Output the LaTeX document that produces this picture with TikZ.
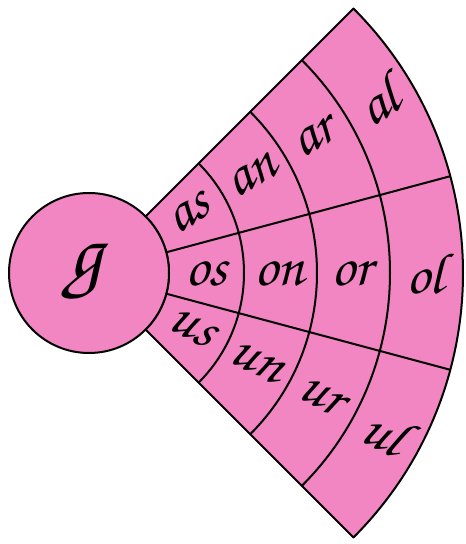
\documentclass[tikz,border=0pt]{standalone}
\usepackage[T1,TU]{fontenc}
\usetikzlibrary{calc}
\definecolor{fanpink}{RGB}{242,134,194}
\newcommand{\cursive}{\fontencoding{T1}\fontfamily{pzc}\fontseries{m}\fontshape{it}\selectfont}

\begin{document}
\begin{tikzpicture}[x=1pt,y=1pt,
rim/.style={draw=black,line width=2pt,line join=round},
syl/.style={font=\cursive\fontsize{58}{58}\selectfont,inner sep=0pt}
]
\useasboundingbox (0,0) rectangle (466,544);
\coordinate (c) at (89,271);

% fan of syllables
\filldraw[rim,fill=fanpink] ($(c)+(45:80)$) -- ($(c)+(45:374)$)
  arc[start angle=45,end angle=-45,radius=374] -- ($(c)+(-45:80)$)
  arc[start angle=-45,end angle=45,radius=80] -- cycle;
\foreach \r in {155,228,301}
  \draw[rim] ($(c)+(45:\r)$) arc[start angle=45,end angle=-45,radius=\r];
\foreach \a in {15,-15}
  \draw[rim] ($(c)+(\a:80)$) -- ($(c)+(\a:374)$);

% the letter
\node[rim,circle,fill=fanpink,minimum size=160pt,inner sep=0pt] (g) at (c) {};
\node[font=\cursive\fontsize{84}{84}\selectfont,inner sep=0pt] (glbl) at ($(c)+(-4,0)$) {g};

% syllables, one column per ring
\foreach \t/\m/\b [count=\i] in {as/os/us,an/on/un,ar/or/ur,al/ol/ul}{
  \pgfmathsetmacro{\rr}{117+73*(\i-1)}
  \node[syl,rotate=31] (t\i) at ($(c)+(31:\rr)$) {\t};
  \node[syl] (m\i) at ($(c)+(0:\rr)$) {\m};
  \node[syl,rotate=-28] (b\i) at ($(c)+(-28:\rr)$) {\b};
}
\end{tikzpicture}
\end{document}
